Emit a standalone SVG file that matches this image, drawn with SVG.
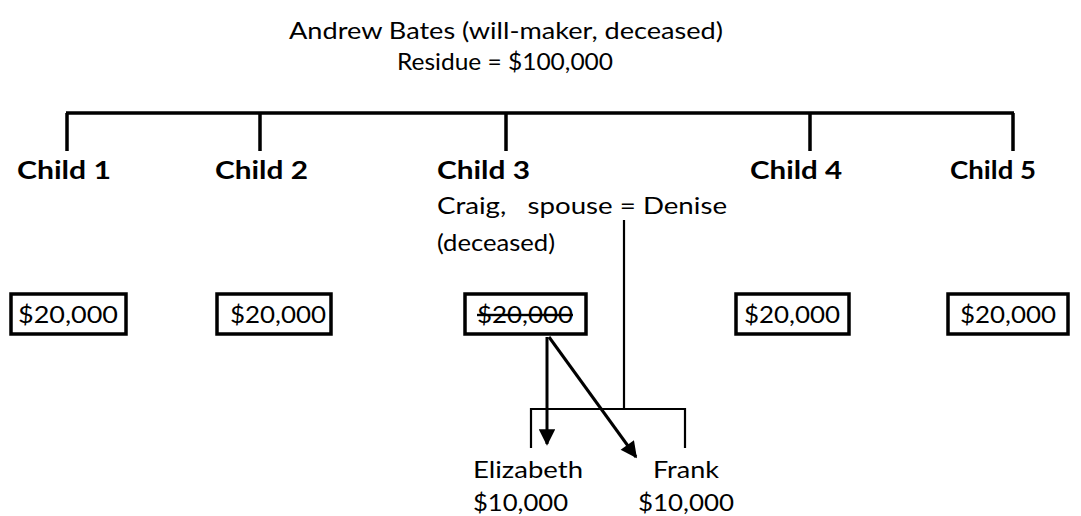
<svg xmlns="http://www.w3.org/2000/svg" width="1081" height="516" viewBox="0 0 1081 516">
<defs>
<style>
text{font-family:Lato,"Open Sans","Liberation Sans",sans-serif;font-size:24px;fill:#000}
.b{font-weight:bold;font-size:25px}
.box{fill:#fff;stroke:#000;stroke-width:3.5}
.thick{stroke:#000;stroke-width:3.5;fill:none}
.thin{stroke:#000;stroke-width:2.2;fill:none}
.arr{stroke:#000;stroke-width:3;fill:none;marker-end:url(#ah)}
</style>
<marker id="ah" viewBox="0 0 10 10" refX="9" refY="5" markerWidth="6.5" markerHeight="5.5" markerUnits="strokeWidth" orient="auto">
<path d="M0,0 L10,5 L0,10 z" fill="#000"/>
</marker>
</defs>
<rect width="1081" height="516" fill="#fff"/>
<g id="title">
<text x="506" y="39" text-anchor="middle" textLength="434" lengthAdjust="spacingAndGlyphs">Andrew Bates (will-maker, deceased)</text>
<text x="505" y="70" text-anchor="middle" textLength="216" lengthAdjust="spacingAndGlyphs">Residue = $100,000</text>
</g>
<g id="connectors">
<path class="thick" d="M66,113 H1014 M67,113 V151 M260,113 V151 M506,113 V151 M810,113 V151 M1013,113 V151"/>
<path class="thin" d="M624,220 V409 M531,448 V409 H685 V448"/>
<path class="arr" d="M547,337 V444"/>
<path class="arr" d="M549,337 L636,457"/>
</g>
<g id="child1">
<text class="b" x="17" y="179" textLength="94" lengthAdjust="spacingAndGlyphs">Child 1</text>
</g>
<g id="child2">
<text class="b" x="215" y="179" textLength="93" lengthAdjust="spacingAndGlyphs">Child 2</text>
</g>
<g id="child3">
<text class="b" x="437" y="179" textLength="93" lengthAdjust="spacingAndGlyphs">Child 3</text>
<text x="437" y="214" textLength="290" lengthAdjust="spacingAndGlyphs" xml:space="preserve">Craig,   spouse = Denise</text>
<text x="437" y="251" textLength="118" lengthAdjust="spacingAndGlyphs">(deceased)</text>
</g>
<g id="child4">
<text class="b" x="750" y="179" textLength="92" lengthAdjust="spacingAndGlyphs">Child 4</text>
</g>
<g id="child5">
<text class="b" x="950" y="179" textLength="86" lengthAdjust="spacingAndGlyphs">Child 5</text>
</g>
<g id="share1">
<rect class="box" x="11" y="294" width="115" height="40"/>
<text x="68" y="323" text-anchor="middle" textLength="100" lengthAdjust="spacingAndGlyphs">$20,000</text>
</g>
<g id="share2">
<rect class="box" x="217" y="294" width="114" height="40"/>
<text x="278" y="323" text-anchor="middle" textLength="96" lengthAdjust="spacingAndGlyphs">$20,000</text>
</g>
<g id="share3">
<rect class="box" x="465" y="294" width="121" height="40"/>
<text x="525" y="323" text-anchor="middle" textLength="96" lengthAdjust="spacingAndGlyphs" text-decoration="line-through">$20,000</text>
</g>
<g id="share4">
<rect class="box" x="736" y="294" width="113" height="40"/>
<text x="792" y="323" text-anchor="middle" textLength="96" lengthAdjust="spacingAndGlyphs">$20,000</text>
</g>
<g id="share5">
<rect class="box" x="948" y="294" width="120" height="40"/>
<text x="1008" y="323" text-anchor="middle" textLength="96" lengthAdjust="spacingAndGlyphs">$20,000</text>
</g>
<g id="elizabeth">
<text x="473" y="478" textLength="110" lengthAdjust="spacingAndGlyphs">Elizabeth</text>
<text x="473" y="511" textLength="95" lengthAdjust="spacingAndGlyphs">$10,000</text>
</g>
<g id="frank">
<text x="653" y="478" textLength="66" lengthAdjust="spacingAndGlyphs">Frank</text>
<text x="638" y="511" textLength="96" lengthAdjust="spacingAndGlyphs">$10,000</text>
</g>
</svg>
